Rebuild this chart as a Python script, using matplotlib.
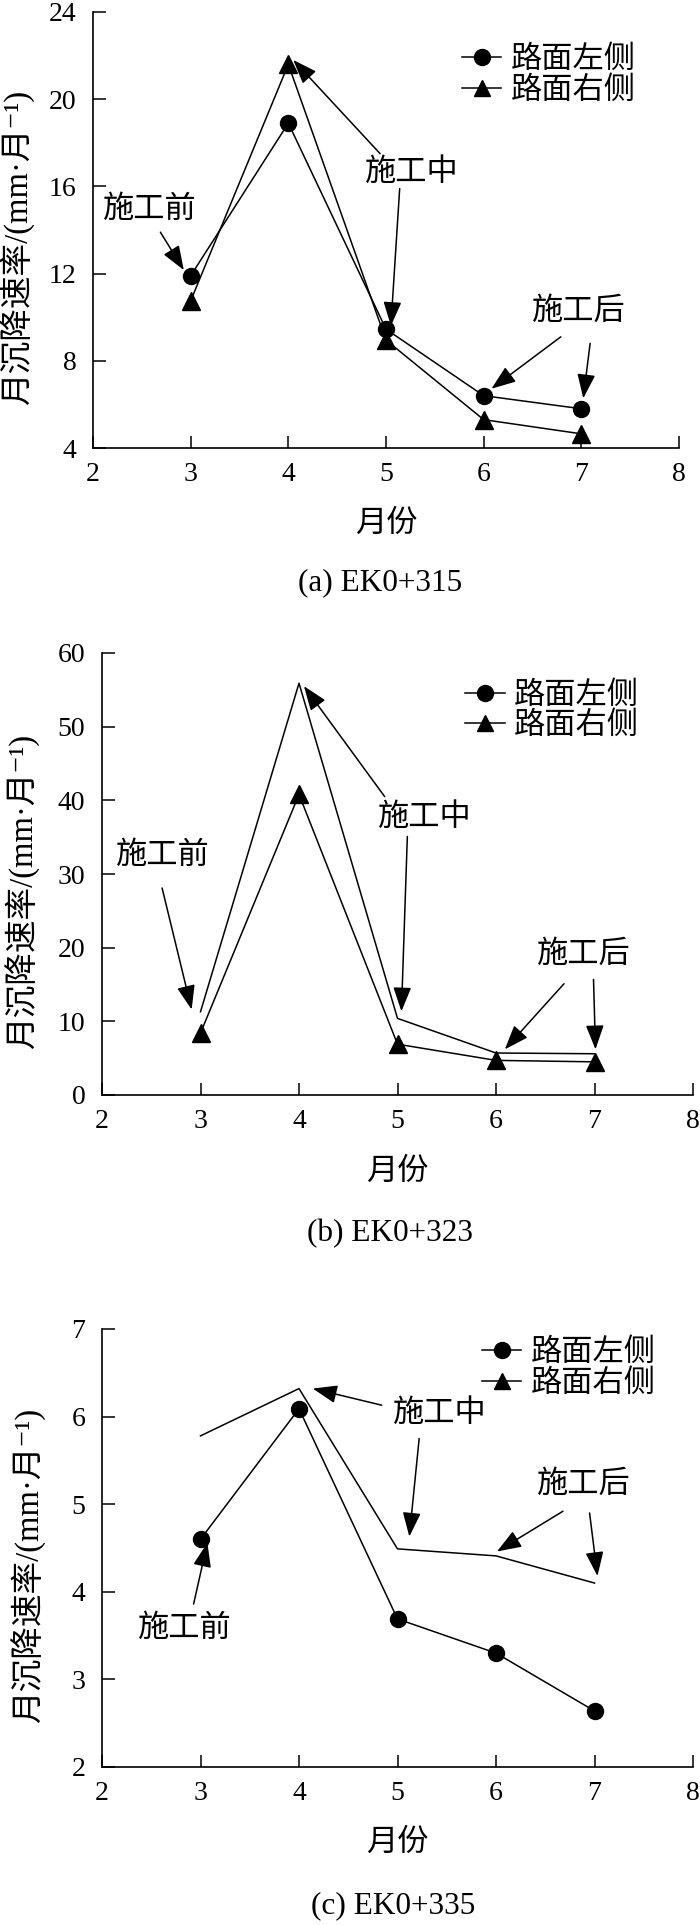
import matplotlib
matplotlib.use("Agg")
import matplotlib.pyplot as plt
from matplotlib.lines import Line2D

plt.rcParams['font.family'] = ['Liberation Serif', 'Noto Sans CJK SC', 'DejaVu Sans']
plt.rcParams['axes.unicode_minus'] = False

# data
months = [3, 4, 5, 6, 7]

left_a = [11.9, 18.9, 9.45, 6.4, 5.8]
right_a = [10.75, 21.6, 8.95, 5.3, 4.65]

left_b = [11.3, 55.9, 10.4, 5.7, 5.6]
right_b = [8.4, 40.8, 6.9, 4.7, 4.5]

left_c = [4.6, 6.09, 3.69, 3.3, 2.64]
right_c = [5.78, 6.32, 4.49, 4.41, 4.1]

xticks = [2, 3, 4, 5, 6, 7, 8]
yticks_a = [4, 8, 12, 16, 20, 24]
yticks_b = [0, 10, 20, 30, 40, 50, 60]
yticks_c = [2, 3, 4, 5, 6, 7]

legend_labels = ["路面左侧", "路面右侧"]
captions = ["(a) EK0+315", "(b) EK0+323", "(c) EK0+335"]
ylabel = "月沉降速率/(mm·月⁻¹)"
xlabel = "月份"

# annotation texts and arrows (tail -> tip), in data coords
notes_a = [("施工前", (2.58, 14.9), [((2.69, 13.9), (2.93, 12.16))]),
           ("施工中", (5.26, 16.6), [((4.94, 17.5), (4.05, 21.8)), ((5.14, 15.9), (5.05, 9.6))]),
           ("施工后", (6.97, 10.2), [((6.79, 9.1), (6.08, 6.72)), ((7.09, 8.8), (7.02, 6.28))])]
notes_b = [("施工前", (2.62, 32.4), [((2.61, 28.1), (2.91, 11.6))]),
           ("施工中", (5.28, 37.6), [((4.87, 40.5), (4.05, 55.5)), ((5.10, 35.1), (5.04, 11.35))]),
           ("施工后", (6.89, 18.9), [((6.69, 15.1), (6.09, 6.2)), ((6.99, 15.7), (7.01, 6.2))])]
notes_c = [("施工前", (2.84, 3.57), [((2.93, 3.86), (3.07, 4.56))]),
           ("施工中", (5.43, 6.02), [((4.84, 6.13), (4.14, 6.32)), ((5.22, 5.75), (5.12, 4.63))]),
           ("施工后", (6.89, 5.21), [((6.68, 4.92), (6.01, 4.46)), ((6.95, 4.90), (7.03, 4.18))])]

fig = plt.figure(figsize=(7, 19.25), dpi=100)

W, H = 700, 1925


def rect(l, r, t, b):
    return [l / W, 1 - b / H, (r - l) / W, (b - t) / H]


panels = [
    dict(rect=rect(93, 679, 12, 448), left=left_a, right=right_a, yt=yticks_a,
         lm='o', rm='^', notes=notes_a, leg=(0.63, 0.922), ylx=-0.128, cap=(380, 583)),
    dict(rect=rect(102, 693, 653, 1095), left=left_b, right=right_b, yt=yticks_b,
         lm=None, rm='^', notes=notes_b, leg=(0.615, 0.935), ylx=-0.134, cap=(390, 1234)),
    dict(rect=rect(102, 693, 1329, 1767), left=left_c, right=right_c, yt=yticks_c,
         lm='o', rm=None, notes=notes_c, leg=(0.643, 0.977), ylx=-0.125, cap=(393, 1906)),
]

for i, p in enumerate(panels):
    ax = fig.add_axes(p['rect'])
    ax.plot(months, p['left'], color='black', lw=1.1, marker=p['lm'], markersize=11.5)
    ax.plot(months, p['right'], color='black', lw=1.1, marker=p['rm'], markersize=12.5)

    ax.set_xlim(2, 8)
    ax.set_ylim(p['yt'][0], p['yt'][-1])
    ax.set_xticks(xticks)
    ax.set_yticks(p['yt'])
    ax.spines['top'].set_visible(False)
    ax.spines['right'].set_visible(False)
    for s in ['left', 'bottom']:
        ax.spines[s].set_linewidth(1.2)
    ax.tick_params(direction='in', length=9, width=1.1, labelsize=20)
    ax.tick_params(axis='x', pad=10)
    ax.tick_params(axis='y', pad=12)

    for label, (tx, ty), arrows in p['notes']:
        ax.text(tx, ty, label, ha='center', va='center', fontsize=22.5)
        for tail, tip in arrows:
            ax.annotate("", xy=tip, xytext=tail,
                        arrowprops=dict(arrowstyle="-|>,head_length=0.75,head_width=0.28",
                                        color='black', lw=1.1, shrinkA=0, shrinkB=0,
                                        mutation_scale=20))

    handles = [Line2D([], [], color='black', lw=1.1, marker='o', markersize=11.5),
               Line2D([], [], color='black', lw=1.1, marker='^', markersize=12)]
    ax.legend(handles, legend_labels, loc='upper left', bbox_to_anchor=p['leg'],
              frameon=False, fontsize=22.5, borderpad=0, borderaxespad=0,
              handlelength=1.25, handletextpad=0.3, labelspacing=0.05)

    ax.text(p['ylx'], 0.46, ylabel, transform=ax.transAxes, rotation=90,
            ha='center', va='center', fontsize=23.5)
    ax.text(0.5, -0.175, xlabel, transform=ax.transAxes,
            ha='center', va='center', fontsize=22.5)

    cx, cy = p['cap']
    fig.text(cx / W, 1 - cy / H, captions[i], ha='center', va='center', fontsize=22.5)

fig.savefig("out.png", dpi=100)
